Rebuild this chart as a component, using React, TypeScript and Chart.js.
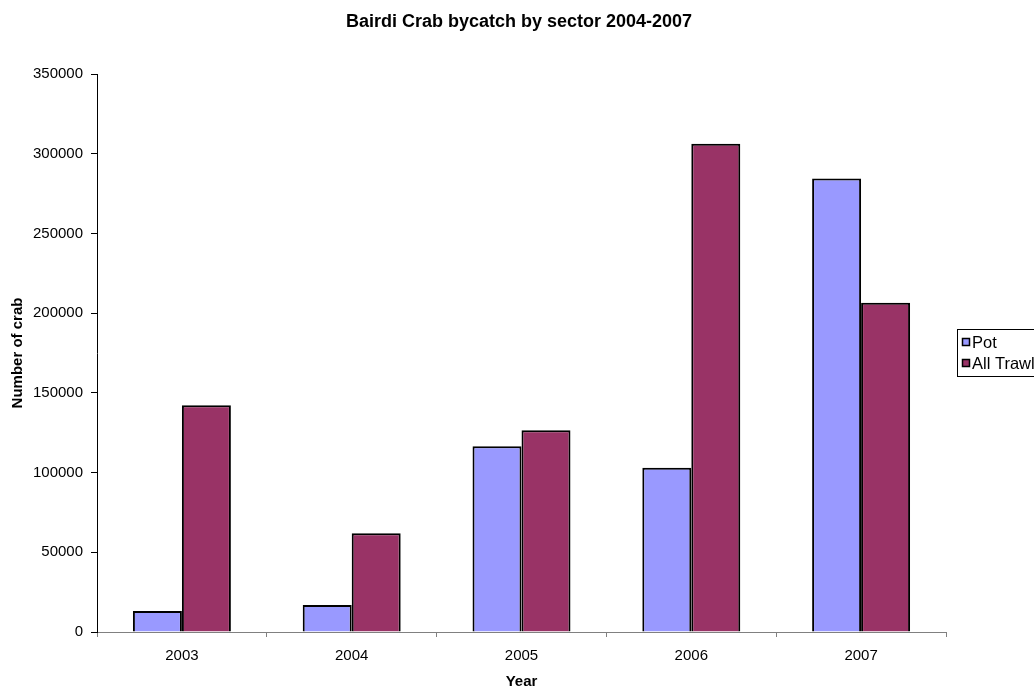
import React, { useEffect, useRef } from "react";
import { Chart, registerables } from "chart.js";

Chart.register(...registerables);

const years = ["2003", "2004", "2005", "2006", "2007"];
const potValues = [13200, 17000, 116500, 103000, 284500];
const trawlValues = [142300, 62000, 126500, 306300, 206500];
const seriesNames = ["Pot", "All Trawl"];
const yTicks = [0, 50000, 100000, 150000, 200000, 250000, 300000, 350000];

const FONT = "'Liberation Sans', Arial, sans-serif";

const legendPlugin = {
  id: "boxLegend",
  afterDraw(chart: any) {
    const ctx = chart.ctx;
    ctx.save();
    ctx.strokeStyle = "#000";
    ctx.lineWidth = 1;
    ctx.strokeRect(957.5, 329.5, 90, 47);
    ctx.font = `16.5px ${FONT}`;
    ctx.textBaseline = "middle";
    ctx.textAlign = "left";
    chart.data.datasets.forEach((ds: any, i: number) => {
      const cy = 342 + i * 21;
      ctx.fillStyle = ds.backgroundColor;
      ctx.fillRect(962, cy - 4, 8, 8);
      ctx.strokeStyle = "#000";
      ctx.lineWidth = 1.5;
      ctx.strokeRect(962.5, cy - 3.5, 7, 7);
      ctx.fillStyle = "#000";
      ctx.fillText(ds.label, 972, cy + 1);
    });
    ctx.restore();
  },
};

const titlePlugin = {
  id: "topTitle",
  afterDraw(chart: any) {
    const ctx = chart.ctx;
    ctx.save();
    ctx.font = `bold 18px ${FONT}`;
    ctx.fillStyle = "#000";
    ctx.textAlign = "center";
    ctx.textBaseline = "middle";
    ctx.fillText("Bairdi Crab bycatch by sector 2004-2007", 519, 22);
    ctx.restore();
  },
};

export default function App() {
  const ref = useRef<HTMLCanvasElement | null>(null);
  useEffect(() => {
    if (!ref.current) return;
    const chart = new Chart(ref.current, {
      type: "bar",
      data: {
        labels: years,
        datasets: [
          {
            label: seriesNames[0],
            data: potValues,
            backgroundColor: "#9999FF",
            borderColor: "#000",
            borderWidth: 2,
            categoryPercentage: 0.577,
            barPercentage: 1,
          },
          {
            label: seriesNames[1],
            data: trawlValues,
            backgroundColor: "#993366",
            borderColor: "#000",
            borderWidth: 2,
            categoryPercentage: 0.577,
            barPercentage: 1,
          },
        ],
      },
      options: {
        responsive: false,
        animation: false,
        devicePixelRatio: 1,
        layout: { padding: { top: 74, right: 88, left: 0, bottom: 0 } },
        plugins: {
          legend: { display: false },
          title: { display: false },
          tooltip: { enabled: false },
        },
        scales: {
          x: {
            afterFit: (s: any) => {
              s.height = 59;
            },
            grid: {
              display: true,
              drawOnChartArea: false,
              drawTicks: true,
              tickLength: 5,
              color: "#808080",
              offset: true,
            },
            border: { display: true, color: "#808080", width: 1 },
            ticks: {
              color: "#000",
              font: { family: FONT, size: 15 },
              padding: 10,
            },
            title: {
              display: true,
              text: "Year",
              color: "#000",
              font: { family: FONT, size: 15, weight: "bold" },
              padding: { top: 0, bottom: 0 },
            },
          },
          y: {
            min: 0,
            max: 350000,
            afterFit: (s: any) => {
              s.width = 97;
            },
            afterBuildTicks: (s: any) => {
              s.ticks = yTicks.map((v) => ({ value: v }));
            },
            grid: {
              display: true,
              drawOnChartArea: false,
              drawTicks: true,
              tickLength: 6,
              color: "#000",
            },
            border: { display: true, color: "#000", width: 1 },
            ticks: {
              color: "#000",
              font: { family: FONT, size: 15 },
              padding: 8,
              callback: (v: any) => String(v),
            },
            title: {
              display: true,
              text: "Number of crab",
              color: "#000",
              font: { family: FONT, size: 15, weight: "bold" },
              padding: { top: 9, bottom: 0 },
            },
          },
        },
      },
      plugins: [legendPlugin, titlePlugin],
    } as any);
    return () => chart.destroy();
  }, []);
  return (
    <div style={{ position: "absolute", left: 0, top: 0, width: 1034, height: 691, background: "#fff" }}>
      <canvas ref={ref} width={1034} height={691} style={{ display: "block" }} />
    </div>
  );
}
